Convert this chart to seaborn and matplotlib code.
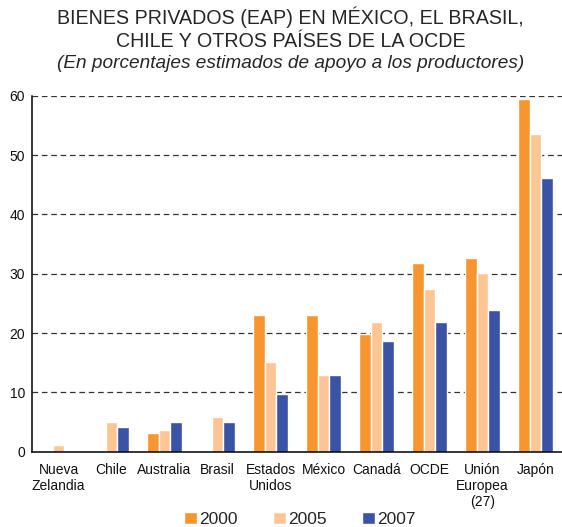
import numpy as np
import pandas as pd
import matplotlib.pyplot as plt
import seaborn as sns

# Estimated producer support (%)
paises = ['Nueva\nZelandia', 'Chile', 'Australia', 'Brasil', 'Estados\nUnidos',
          'México', 'Canadá', 'OCDE', 'Unión\nEuropea\n(27)', 'Japón']
v2000 = [0.1, np.nan, 3.1, np.nan, 23.0, 23.0, 19.9, 31.8, 32.7, 59.4]
v2005 = [1.2, 5.0, 3.7, 5.9, 15.1, 12.9, 21.8, 27.4, 30.1, 53.6]
v2007 = [np.nan, 4.1, 5.0, 5.0, 9.8, 12.9, 18.7, 21.8, 23.9, 46.1]
anios = ['2000', '2005', '2007']
colores = ['#F7962F', '#FDC593', '#3A53A4']

df = pd.DataFrame({
    'pais': paises * 3,
    'anio': [a for a in anios for _ in paises],
    'valor': v2000 + v2005 + v2007,
})

sns.set_style('white')
plt.rcParams['font.family'] = ['Liberation Sans', 'DejaVu Sans']

fig = plt.figure(figsize=(5.62, 5.27), dpi=100)
ax = fig.add_axes([0.057, 0.143, 0.943, 0.675])

sns.barplot(data=df, x='pais', y='valor', hue='anio', palette=colores,
            width=0.65, saturation=1, ax=ax)

ax.set_ylim(0, 60)
ax.set_xlim(-0.5, 9.5)
ax.set_yticks(range(0, 61, 10))
ax.set_xlabel('')
ax.set_ylabel('')
for y in range(10, 61, 10):
    ax.axhline(y, color='#333333', lw=0.9, ls=(0, (4.5, 3)), zorder=0)
ax.tick_params(axis='both', length=0, labelsize=10, colors='#111111')
ax.tick_params(axis='x', pad=8)
ax.tick_params(axis='y', pad=5)
sns.despine(ax=ax, top=True, right=True)
ax.spines['left'].set_color('black')
ax.spines['bottom'].set_color('black')
ax.spines['left'].set_linewidth(1.1)
ax.spines['bottom'].set_linewidth(1.1)

ax.legend(loc='center', bbox_to_anchor=(0.505, -0.19), ncol=3, frameon=False,
          fontsize=12.5, handlelength=0.75, handleheight=0.75, handletextpad=0.15,
          columnspacing=2.0, bbox_transform=ax.transAxes)

fig.text(0.517, 0.967, 'BIENES PRIVADOS (EAP) EN MÉXICO, EL BRASIL,', ha='center',
         va='center', fontsize=14.1)
fig.text(0.517, 0.922, 'CHILE Y OTROS PAÍSES DE LA OCDE', ha='center', va='center',
         fontsize=14.1)
fig.text(0.517, 0.88, '(En porcentajes estimados de apoyo a los productores)',
         ha='center', va='center', fontsize=13.7, style='italic')

fig.savefig('out.png', dpi=100)
